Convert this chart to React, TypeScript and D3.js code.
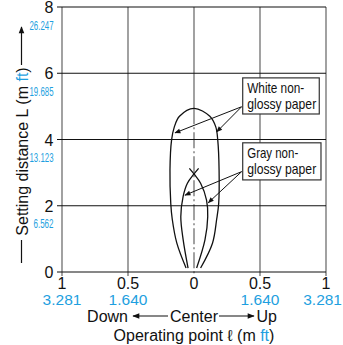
import React from "react";
import * as d3 from "d3";

// ---- data ----
const X_TICKS = [-1, -0.5, 0, 0.5, 1];
const X_LABELS_M = ["1", "0.5", "0", "0.5", "1"];
const X_LABELS_FT = ["3.281", "1.640", "", "1.640", "3.281"];
const Y_TICKS = [0, 2, 4, 6, 8];
const Y_LABELS_FT = ["", "6.562", "13.123", "19.685", "26.247"];

// White non-glossy paper: [operating point ℓ, setting distance L]
const WHITE_CURVE: [number, number][] = [
  [-0.06, 0.12], [-0.13, 0.87], [-0.165, 1.6], [-0.176, 2.07], [-0.182, 3.08],
  [-0.17, 3.98], [-0.149, 4.38], [-0.11, 4.7], [0, 4.94], [0.12, 4.7],
  [0.165, 4.38], [0.18, 3.98], [0.19, 3.08], [0.187, 2.07], [0.172, 1.6],
  [0.14, 0.87], [0.05, 0.12],
];
// Gray non-glossy paper (two arcs crossing at the apex)
const GRAY_LEFT: [number, number][] = [
  [-0.045, 0.12], [-0.082, 0.97], [-0.1, 1.67], [-0.083, 2.27], [-0.05, 2.68], [0, 2.96], [0.035, 3.13],
];
const GRAY_RIGHT: [number, number][] = [
  [0.02, 0.12], [0.083, 0.97], [0.104, 1.67], [0.095, 2.17], [0.05, 2.68], [0, 2.96], [-0.035, 3.13],
];

// annotation boxes (in data units) and arrow targets
const WHITE_BOX = { x0: 0.369, x1: 0.949, y0: 5.86, y1: 4.77, lines: ["White non-", "glossy paper"] };
const GRAY_BOX = { x0: 0.369, x1: 0.962, y0: 3.9, y1: 2.78, lines: ["Gray non-", "glossy paper"] };
const WHITE_ARROWS: { from: [number, number]; to: [number, number] }[] = [
  { from: [0.361, 4.99], to: [-0.144, 4.2] },
  { from: [0.361, 4.99], to: [0.172, 4.23] },
];
const GRAY_ARROWS: { from: [number, number]; to: [number, number] }[] = [
  { from: [0.361, 3.03], to: [-0.068, 2.32] },
  { from: [0.361, 3.03], to: [0.108, 2.09] },
];

const BLUE = "#1e9fe0";
const FONT = "'Liberation Sans', Arial, Helvetica, sans-serif";

export default function App() {
  const W = 343, H = 345;
  const x = d3.scaleLinear().domain([-1, 1]).range([62, 326]);
  const y = d3.scaleLinear().domain([0, 8]).range([272, 7]);

  const line = d3
    .line<[number, number]>()
    .x((d) => x(d[0]))
    .y((d) => y(d[1]))
    .curve(d3.curveCatmullRom.alpha(0.5));

  const gridGray = "#7a7a7a";
  const whiteTop = d3.max(WHITE_CURVE, (d) => d[1]) as number;

  const boxText = (b: typeof WHITE_BOX, widths: number[]) => (
    <g>
      <rect x={x(b.x0)} y={y(b.y0)} width={x(b.x1) - x(b.x0)} height={y(b.y1) - y(b.y0)} fill="#fff" stroke="#333" strokeWidth={1.2} />
      {b.lines.map((t, i) => (
        <text key={i} x={x(b.x0) + 4.5} y={y(b.y0) + 15.5 + i * 16} fontSize={15} fontFamily={FONT} textLength={widths[i]} lengthAdjust="spacingAndGlyphs" fill="#111">
          {t}
        </text>
      ))}
    </g>
  );

  const arrows = (arr: typeof WHITE_ARROWS) =>
    arr.map((a, i) => (
      <line key={i} x1={x(a.from[0])} y1={y(a.from[1])} x2={x(a.to[0])} y2={y(a.to[1])} stroke="#111" strokeWidth={1} markerEnd="url(#ah)" />
    ));

  return (
    <svg width={W} height={H} style={{ position: "absolute", left: 0, top: 0, background: "#fff" }}>
      <defs>
        <marker id="ah" viewBox="0 0 10 10" refX="9" refY="5" markerWidth="8" markerHeight="6" orient="auto" markerUnits="userSpaceOnUse">
          <path d="M0,1 L10,5 L0,9 Z" fill="#111" />
        </marker>
        <marker id="ah2" viewBox="0 0 10 10" refX="9" refY="5" markerWidth="9" markerHeight="7" orient="auto" markerUnits="userSpaceOnUse">
          <path d="M0,1 L10,5 L0,9 Z" fill="#111" />
        </marker>
      </defs>

      {/* vertical grid lines (gray) */}
      {X_TICKS.map((t) =>
        t === 0 ? (
          <g key={t}>
            <line x1={x(t)} x2={x(t)} y1={y(8)} y2={y(whiteTop)} stroke={gridGray} strokeWidth={1.4} />
            <line x1={x(t)} x2={x(t)} y1={y(whiteTop)} y2={y(0) + 4} stroke={gridGray} strokeWidth={1.4} strokeDasharray="16,3,2,3" />
          </g>
        ) : (
          <line key={t} x1={x(t)} x2={x(t)} y1={y(8)} y2={y(0) + 4} stroke={gridGray} strokeWidth={1.4} />
        )
      )}
      {/* horizontal grid lines (black) */}
      {Y_TICKS.map((t) => (
        <line key={t} x1={x(-1) - 5} x2={x(1)} y1={y(t)} y2={y(t)} stroke="#111" strokeWidth={1.1} />
      ))}

      {/* curves */}
      <path d={line(WHITE_CURVE) || ""} fill="none" stroke="#111" strokeWidth={1.3} />
      <path d={line(GRAY_LEFT) || ""} fill="none" stroke="#111" strokeWidth={1.3} />
      <path d={line(GRAY_RIGHT) || ""} fill="none" stroke="#111" strokeWidth={1.3} />

      {/* annotations */}
      {arrows(WHITE_ARROWS)}
      {arrows(GRAY_ARROWS)}
      {boxText(WHITE_BOX, [57, 69])}
      {boxText(GRAY_BOX, [51, 69])}

      {/* y tick labels */}
      {Y_TICKS.map((t, i) => (
        <g key={t}>
          <text x={53.5} y={y(t) + 6} fontSize={16} fontFamily={FONT} textAnchor="end" fill="#111">
            {t}
          </text>
          {Y_LABELS_FT[i] && (
            <text x={53.5} y={y(t) + 22.5} fontSize={13} fontFamily={FONT} textAnchor="end" fill={BLUE} textLength={Y_LABELS_FT[i].length * 4} lengthAdjust="spacingAndGlyphs">
              {Y_LABELS_FT[i]}
            </text>
          )}
        </g>
      ))}

      {/* x tick labels */}
      {X_TICKS.map((t, i) => {
        const last = i === X_TICKS.length - 1;
        return (
          <g key={t}>
            <text x={x(t)} y={289} fontSize={16} fontFamily={FONT} textAnchor="middle" fill="#111">
              {X_LABELS_M[i]}
            </text>
            {X_LABELS_FT[i] && (
              <text x={last ? W - 1 : x(t)} y={305} fontSize={15.5} fontFamily={FONT} textAnchor={last ? "end" : "middle"} fill={BLUE}>
                {X_LABELS_FT[i]}
              </text>
            )}
          </g>
        );
      })}

      {/* Down <- Center -> Up */}
      <text x={x(0)} y={321.5} fontSize={16} fontFamily={FONT} textAnchor="middle" fill="#111">Center</text>
      <text x={x(-0.5)} y={321.5} fontSize={16} fontFamily={FONT} textAnchor="end" fill="#111">Down</text>
      <text x={x(0.5) - 3.5} y={321.5} fontSize={16} fontFamily={FONT} textAnchor="start" fill="#111">Up</text>
      <line x1={168} x2={133} y1={316} y2={316} stroke="#111" strokeWidth={1.2} markerEnd="url(#ah2)" />
      <line x1={219} x2={254} y1={316} y2={316} stroke="#111" strokeWidth={1.2} markerEnd="url(#ah2)" />

      <text x={x(0)} y={340.5} fontSize={16} fontFamily={FONT} textAnchor="middle" fill="#111">
        Operating point ℓ (m <tspan fill={BLUE}>ft</tspan>)
      </text>

      {/* y title */}
      <g transform="translate(27.5,151.5) rotate(-90)">
        <text x={0} y={0} fontSize={16} fontFamily={FONT} textAnchor="middle" fill="#111">
          Setting distance L (m <tspan fill={BLUE}>ft</tspan>)
        </text>
      </g>
      <line x1={21.5} x2={21.5} y1={263} y2={240} stroke="#111" strokeWidth={1.2} />
      <line x1={21.5} x2={21.5} y1={65} y2={27} stroke="#111" strokeWidth={1.2} markerEnd="url(#ah2)" />
    </svg>
  );
}
